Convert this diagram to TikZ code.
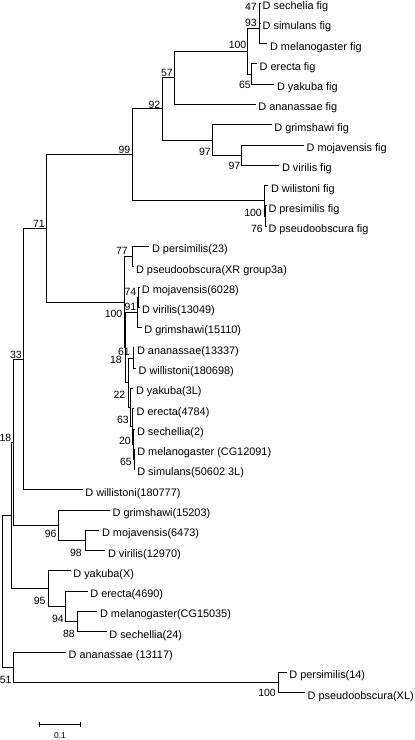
\documentclass[tikz,border=0pt]{standalone}
\usepackage{fontspec}
\setmainfont{Liberation Sans}
\usetikzlibrary{arrows.meta}

\begin{document}
\begin{tikzpicture}[
    x=1pt,
    y=-1pt,
    branch/.style={
      draw,
      line width=0.75pt
    },
    leaf/.style={
      anchor=west,
      inner xsep=2.5pt,
      inner ysep=0pt,
      text height=13pt,
      text depth=0pt,
      font=\fontsize{10.9}{12}\selectfont
    },
    boot/.style={
      anchor=east,
      inner sep=0pt,
      text height=7.6pt,
      text depth=0pt,
      font=\fontsize{10.5}{12}\selectfont
    }
  ]
    \useasboundingbox (0,0) rectangle (415,740);

    \foreach \i/\x/\t in {0/260/D sechelia fig,1/260/D simulans fig,2/267.4/D melanogaster fig,
        3/257/D erecta fig,4/274.4/D yakuba fig,5/255.7/D ananassae fig,6/271.7/D grimshawi fig,
        7/304/D mojavensis fig,8/279.4/D virilis fig,9/268.4/D wilistoni fig,10/265.8/D presimilis fig,
        11/265.8/D pseudoobscura fig,12/149.4/D persimilis(23),13/133.4/D pseudoobscura(XR group3a),
        14/139.2/D mojavensis(6028),15/139.4/D virilis(13049),16/141.7/D grimshawi(15110),
        17/134.4/D ananassae(13337),18/136/D willistoni(180698),19/133.4/D yakuba(3L),
        20/134/D erecta(4784),21/134.4/D sechellia(2),22/134.6/D melanogaster (CG12091),
        23/134.6/D simulans(50602 3L),24/82.7/D willistoni(180777),25/110/D grimshawi(15203),
        26/99.4/D mojavensis(6473),27/105.4/D virilis(12970),28/70.7/D yakuba(X),
        29/87.7/D erecta(4690),30/97.4/D melanogaster(CG15035),31/106.7/D sechellia(24),
        32/66/D ananassae (13117),33/286.7/D persimilis(14),34/305/D pseudoobscura(XL)}
      \node[leaf] (l\i) at (\x,{3+20.28*\i}) {\t};

    \foreach \n/\x/\y in {n47/259.5/13.14,n93/259/28.35,n65a/251.7/73.98,n100a/247.3/51.17,
        n57/174.3/77.78,n97b/241.7/155.1,n97a/212.3/139.89,n92/162.3/108.84,n76/265.5/215.94,
        n100b/264.5/200.73,n99/132/154.79,n77/132.5/256.5,n74/138.8/297.06,n91/137.3/312.27,
        n61/133.3/357.9,nms/134.3/459.3,n65b/133.8/444.09,n20/132/426.35,n63/130.5/407.33,
        n22/128.3/382.6,n18m/125.7/347.44,n100m/124.3/301.97,n71/46/228.38,n33/23.3/359.05,
        n98/85/540.42,n96/58.3/525.21,n18l/13.3/442.13,n88/77.7/621.54,n94/65.7/606.33,
        n95/48.7/588.59,nq/11.7/515.36,n100l/278/682.38,n51/13.3/667.17,root/2.7/591.27}
      \coordinate (\n) at (\x,\y);

    \foreach \p/\c in {n47/l0.west,n47/l1.west,n93/n47,n93/l2.west,n65a/l3.west,n65a/l4.west,
        n100a/n93,n100a/n65a,n57/n100a,n57/l5.west,n97b/l7.west,n97b/l8.west,n97a/l6.west,
        n97a/n97b,n92/n57,n92/n97a,n76/l10.west,n76/l11.west,n100b/l9.west,n100b/n76,
        n99/n92,n99/n100b,n77/l12.west,n77/l13.west,n74/l14.west,n74/l15.west,n91/n74,
        n91/l16.west,n61/l17.west,n61/l18.west,nms/l22.west,nms/l23.west,n65b/l21.west,
        n65b/nms,n20/l20.west,n20/n65b,n63/l19.west,n63/n20,n22/n61,n22/n63,n18m/n91,
        n18m/n22,n100m/n77,n100m/n18m,n71/n99,n71/n100m,n33/n71,n33/l24.west,
        n98/l26.west,n98/l27.west,n96/l25.west,n96/n98,n18l/n33,n18l/n96,n88/l30.west,
        n88/l31.west,n94/l29.west,n94/n88,n95/l28.west,n95/n94,nq/n18l,nq/n95,
        n100l/l33.west,n100l/l34.west,n51/l32.west,n51/n100l,root/nq,root/n51}
      \draw[branch] (\p) |- (\c);

    \foreach \x/\y/\v [count=\k] in {257/7/47,257/23/93,246.5/45/100,251/85/65,173/72.7/57,
        160.5/104.3/92,130.5/150/99,211/151.7/97,240.5/165.7/97,262/212.3/100,263/228.5/76,
        45/223.3/71,128/250.7/77,136.5/291.7/74,136.5/306.7/91,122.5/313.3/100,130/351.7/61,
        122/359.5/18,125.5/395/22,129/420/63,131/441/20,132/461.3/65,22/354.3/33,
        11.5/437.7/18,56.7/534/96,82/552.7/98,45.7/600.7/95,64/619/94,75/634/88,
        11.7/679.3/51,276/692.7/100}
      \node[boot] (b\k) at (\x,\y) {\v};

    \coordinate (sbl) at (39.3,724.3);
    \coordinate (sbr) at (81,724.3);
    \draw[branch,{Bar[width=5.6pt]}-{Bar[width=5.6pt]}] (sbl) -- (sbr);
    \node[inner sep=0pt,font=\fontsize{8.5}{10}\selectfont] (sbt) at (60,736) {0.1};
  \end{tikzpicture}
\end{document}
